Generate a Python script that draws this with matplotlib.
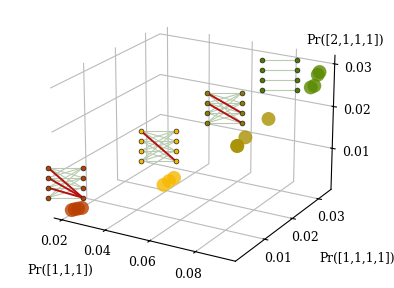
import matplotlib
matplotlib.use("Agg")
import matplotlib.pyplot as plt
import numpy as np

plt.rcParams['font.family'] = 'DejaVu Serif'
plt.rcParams['font.size'] = 9

px = [0.0200, 0.0208, 0.0218, 0.0230, 0.0440, 0.0452, 0.0463, 0.0689, 0.0689, 0.0709, 0.0775, 0.0890, 0.0900, 0.0904, 0.0909]
py = [0.0030, 0.0034, 0.0038, 0.0042, 0.0160, 0.0170, 0.0179, 0.0227, 0.0227, 0.0240, 0.0270, 0.0330, 0.0335, 0.0344, 0.0346]
pz = [0.0009, 0.0010, 0.0011, 0.0012, 0.0037, 0.0043, 0.0048, 0.0128, 0.0128, 0.0145, 0.0183, 0.0245, 0.0248, 0.0271, 0.0277]
group = [0, 0, 0, 0, 1, 1, 1, 2, 2, 2, 2, 3, 3, 3, 3]
group_colors = ['#b84000', '#f5b800', '#a89000', '#5a8a00']
node_colors = ['#b84000', '#f5b800', '#8a7a00', '#4f7a00']

xticks = [0.02, 0.04, 0.06, 0.08]
yticks = [0.01, 0.02, 0.03]
zticks = [0.01, 0.02, 0.03]

all_edges = [(a, b) for a in range(4) for b in range(4)]
net_light = [all_edges, all_edges, all_edges, [(0, 0), (1, 1), (2, 2), (3, 3)]]
net_red = [[(0, 3), (1, 3), (2, 3)], [(0, 3)], [(0, 2), (1, 3)], []]
net_left_px = [48, 141, 207, 262]
net_top_px = [167.7, 131, 93, 59.5]

W, H = 394, 288
fig = plt.figure(figsize=(W / 100, H / 100), dpi=100)
ax = fig.add_axes([-0.070, -0.043, 1.11, 1.11], projection='3d')
ax.view_init(elev=20.5, azim=-60)
ax.set_box_aspect((4, 4, 2.835), zoom=0.987)
ax.scatter(px, py, pz, s=100, c=[group_colors[g] for g in group], alpha=0.8, linewidths=0, depthshade=False)
ax.set_xlim(0.0164, 0.097)
ax.set_ylim(0, 0.035)
ax.set_zlim(0, 0.032)
ax.set_xticks(xticks)
ax.set_yticks(yticks)
ax.set_zticks(zticks)
ax.set_xticklabels([f'{v:.2f}' for v in xticks])
ax.set_yticklabels([f'{v:.2f}' for v in yticks])
ax.set_zticklabels([f'{v:.2f}' for v in zticks])
ax.tick_params(axis='x', pad=0.7)
ax.tick_params(axis='y', pad=0.5)
ax.tick_params(axis='z', pad=2.5)
for a in (ax.xaxis, ax.yaxis, ax.zaxis):
    a.set_pane_color((1, 1, 1, 0))
    a.pane.set_edgecolor((1, 1, 1, 0))
    a._axinfo['grid']['color'] = '#bbbbbb'
    a._axinfo['grid']['linewidth'] = 0.8
fig.text(27 / W, 1 - 270 / H, 'Pr([1,1,1])', va='center', ha='left')
fig.text(319.5 / W, 1 - 258 / H, 'Pr([1,1,1,1])', va='center', ha='left', fontsize=8.7)
fig.text(306 / W, 1 - 40 / H, 'Pr([2,1,1,1])', va='center', ha='left')

NW, NH = 34.7, 30
for i in range(4):
    n = fig.add_axes([net_left_px[i] / W, 1 - (net_top_px[i] + NH) / H, NW / W, NH / H])
    n.set_xlim(0, 1)
    n.set_ylim(3, 0)
    n.axis('off')
    n.patch.set_alpha(0)
    for a, b in net_light[i]:
        n.plot([0, 1], [a, b], color='#b8cbb0', lw=0.8, clip_on=False, zorder=1)
    for a, b in net_red[i]:
        n.plot([0, 1], [a, b], color='#b81010', lw=1.4, clip_on=False, zorder=2)
    for s in (0, 1):
        n.scatter([s] * 4, range(4), s=12, c=node_colors[i], edgecolors='#222222', linewidths=0.5, clip_on=False, zorder=3)

fig.savefig('out.png', dpi=100)
